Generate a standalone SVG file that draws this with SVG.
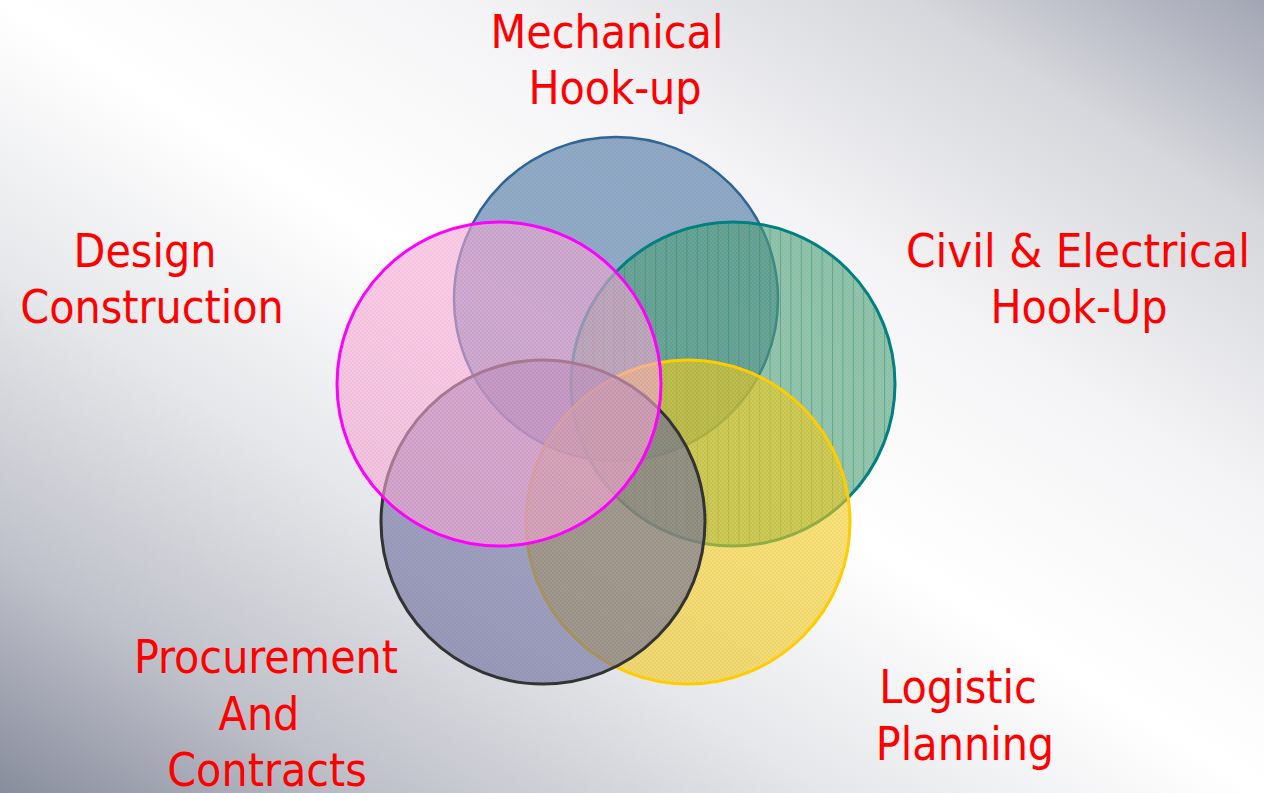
<svg xmlns="http://www.w3.org/2000/svg" width="1264" height="793" viewBox="0 0 1264 793">
<defs>
<linearGradient id="bg" x1="0" y1="1" x2="1" y2="0">
<stop offset="0" stop-color="#888d9d"/>
<stop offset="0.15" stop-color="#bfc1ca"/>
<stop offset="0.33" stop-color="#e6e7ea"/>
<stop offset="0.5" stop-color="#ffffff"/>
<stop offset="0.68" stop-color="#f4f4f6"/>
<stop offset="0.86" stop-color="#d6d7dc"/>
<stop offset="1" stop-color="#a2a6b4"/>
</linearGradient>
<pattern id="checker" width="4" height="4" patternUnits="userSpaceOnUse">
<rect x="0" y="0" width="2" height="2" fill="#000" fill-opacity="0.035"/>
<rect x="2" y="2" width="2" height="2" fill="#000" fill-opacity="0.035"/>
</pattern>
<pattern id="vlines" width="10.4" height="10" patternUnits="userSpaceOnUse">
<rect x="0" y="0" width="1" height="10" fill="#2e8a5a" fill-opacity="0.45"/>
</pattern>
<style>
.lbl{font-family:"DejaVu Sans Condensed","DejaVu Sans",sans-serif;font-stretch:condensed;font-size:46px;fill:#ff0000;text-anchor:middle}
.tex{fill:url(#checker)}
</style>
</defs>
<rect width="1264" height="793" fill="url(#bg)"/>

<g id="mechanical">
<circle cx="616" cy="299" r="162" fill="rgb(75,118,165)" fill-opacity="0.6"/>
<circle cx="616" cy="299" r="162" class="tex"/>
<circle cx="616" cy="299" r="162" fill="none" stroke="#2f6497" stroke-width="2.5"/>
</g>
<g id="civil">
<circle cx="733" cy="384" r="162" fill="rgb(78,163,122)" fill-opacity="0.6"/>
<circle cx="733" cy="384" r="162" fill="url(#vlines)"/>
<circle cx="733" cy="384" r="162" class="tex"/>
<circle cx="733" cy="384" r="162" fill="none" stroke="#008080" stroke-width="3"/>
</g>
<g id="logistic">
<circle cx="688" cy="522" r="162" fill="rgb(247,207,30)" fill-opacity="0.6"/>
<circle cx="688" cy="522" r="162" class="tex"/>
<circle cx="688" cy="522" r="162" fill="none" stroke="#ffcc00" stroke-width="3"/>
</g>
<g id="procurement">
<circle cx="543" cy="522" r="162" fill="rgb(110,110,162)" fill-opacity="0.6"/>
<circle cx="543" cy="522" r="162" class="tex"/>
<circle cx="543" cy="522" r="162" fill="none" stroke="#333333" stroke-width="3"/>
</g>
<g id="design">
<circle cx="499" cy="384" r="162" fill="rgb(250,170,215)" fill-opacity="0.6"/>
<circle cx="499" cy="384" r="162" class="tex"/>
<circle cx="499" cy="384" r="162" fill="none" stroke="#ff00ff" stroke-width="3"/>
</g>

<g id="labels">
<text class="lbl" x="607" y="48">Mechanical</text>
<text class="lbl" x="615" y="104">Hook-up</text>
<text class="lbl" x="145" y="267">Design</text>
<text class="lbl" x="152" y="323">Construction</text>
<text class="lbl" x="1078" y="267" style="font-size:47px">Civil &amp; Electrical</text>
<text class="lbl" x="1079" y="323">Hook-Up</text>
<text class="lbl" x="266" y="673">Procurement</text>
<text class="lbl" x="259" y="730">And</text>
<text class="lbl" x="267" y="786">Contracts</text>
<text class="lbl" x="958" y="703">Logistic</text>
<text class="lbl" x="965" y="760">Planning</text>
</g>
<g id="connectors"/>
</svg>
